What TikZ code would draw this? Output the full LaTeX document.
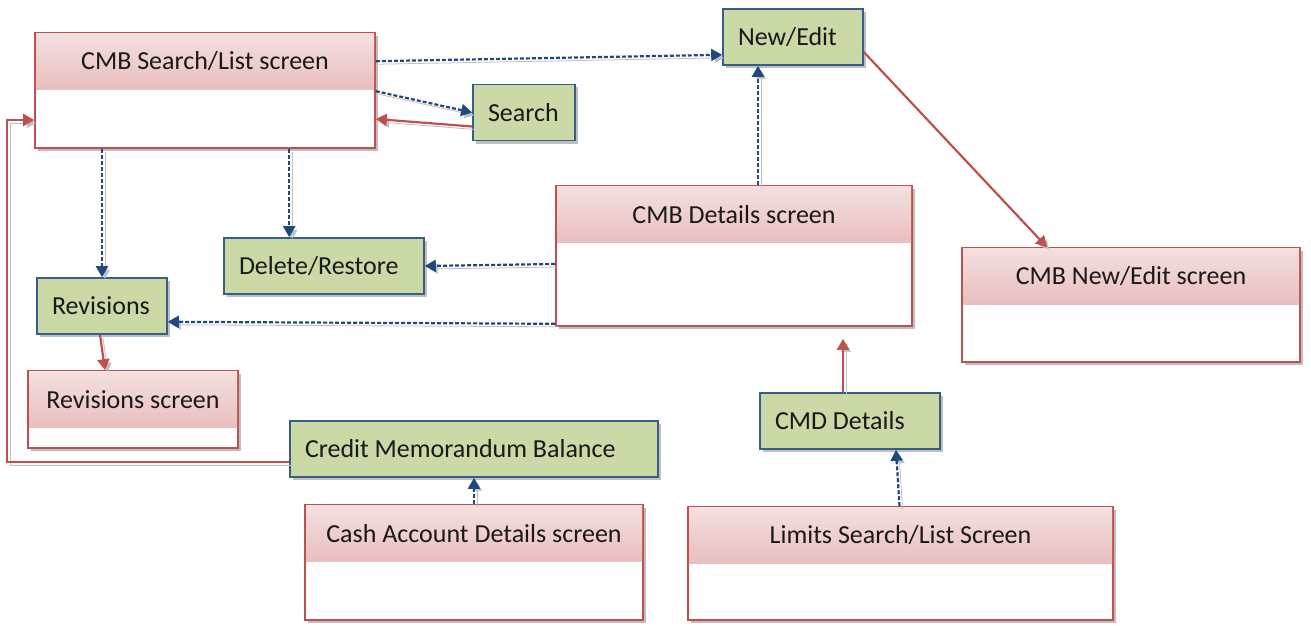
\documentclass[tikz,border=0pt]{standalone}
\usepackage{fontspec}
\setmainfont{Carlito}
\usepackage{tikz}
\usetikzlibrary{arrows.meta,calc,shadows}
\definecolor{scrline}{RGB}{192,80,77}
\definecolor{scrtop}{RGB}{244,224,224}
\definecolor{scrbot}{RGB}{233,190,190}
\definecolor{actfill}{RGB}{202,217,166}
\definecolor{actline}{RGB}{56,93,138}
\definecolor{navblue}{RGB}{31,73,125}

\begin{document}
\begin{tikzpicture}[x=0.5pt,y=-0.5pt,>={Triangle[length=5.5pt,width=6pt]},
  font=\fontsize{13}{15}\selectfont,
  screen/.style={draw=scrline,line width=0.8pt,fill=white,inner sep=0pt,
    drop shadow={shadow xshift=1.5pt,shadow yshift=-1.5pt,fill=black!50,opacity=.5}},
  head/.style={anchor=north,yshift=-0.4pt,minimum height=28pt,inner sep=0pt,
    top color=scrtop,bottom color=scrbot,text=black!90},
  action/.style={draw=actline,line width=0.8pt,fill=actfill,minimum height=28pt,
    inner xsep=7.5pt,inner ysep=0pt,align=flush left,text=black!90,
    drop shadow={shadow xshift=1.5pt,shadow yshift=-1.5pt,fill=black!50,opacity=.5}},
  nav/.style={->,navblue,line width=1.1pt,dash pattern=on 2pt off 1pt,
    preaction={draw=black!25,transform canvas={shift={(1.5pt,-1.5pt)}}}},
  flow/.style={->,scrline,line width=1.1pt,
    preaction={draw=black!25,transform canvas={shift={(1.5pt,-1.5pt)}}}}]
\useasboundingbox (0,0) rectangle (1311,626);

% screens
\node[screen,minimum width=170pt,minimum height=57.5pt] (cmbsearch) at (205,90.5) {};
\node[head,minimum width=169pt] (cmbsearch-t) at (cmbsearch.north) {CMB Search/List screen};
\node[screen,minimum width=178pt,minimum height=70pt] (cmbdet) at (734,256) {};
\node[head,minimum width=177pt] (cmbdet-t) at (cmbdet.north) {CMB Details screen};
\node[screen,minimum width=169pt,minimum height=57pt] (cmbnew) at (1131,305) {};
\node[head,minimum width=168pt] (cmbnew-t) at (cmbnew.north) {CMB New/Edit screen};
\node[screen,minimum width=105pt,minimum height=38.5pt] (revscreen) at (133,409.5) {};
\node[head,minimum width=104pt] (revscreen-t) at (revscreen.north) {Revisions screen};
\node[screen,minimum width=169pt,minimum height=57.5pt] (cashacc) at (474,562.5) {};
\node[head,minimum width=168pt] (cashacc-t) at (cashacc.north) {Cash Account Details screen};
\node[screen,minimum width=212.5pt,minimum height=56.5pt] (limits) at (900.5,563.5) {};
\node[head,minimum width=211.5pt] (limits-t) at (limits.north) {Limits Search/List Screen};

% actions
\node[action,text width=36pt] (search) at (524,112.5) {Search};
\node[action,text width=55pt] (newedit) at (793,37) {New/Edit};
\node[action,text width=85pt] (delrest) at (324,266) {Delete/Restore};
\node[action,text width=50pt] (revisions) at (102,306) {Revisions};
\node[action,text width=169pt] (cmbal) at (474,449) {Credit Memorandum Balance};
\node[action,text width=75pt] (cmddet) at (850,421) {CMD Details};

% entry points
\coordinate (delin) at ($(delrest.north west)+(66,0)$);
\coordinate (newin) at ($(newedit.south)+(-35,0)$);
\coordinate (detin) at ($(cmbdet.south)+(109,0)$);
\coordinate (loop) at ($(cmbsearch.west)+(-27,29.5)$);

% links
\draw[nav] ($(cmbsearch.north east)+(0,29)$) -- ($(newedit.south west)+(0,-11)$);
\draw[nav] ($(cmbsearch.north east)+(0,59)$) -- (search.west);
\draw[flow] ($(search.west)+(0,14)$) -- ($(cmbsearch.east)+(0,28.5)$);
\draw[nav] (revisions.north |- cmbsearch.south) -- (revisions.north);
\draw[nav] (delin |- cmbsearch.south) -- (delin);
\draw[nav] ($(cmbdet.west)+(0,8)$) -- (delrest.east);
\draw[nav] ($(cmbdet.south west)+(0,-3)$) -- ($(revisions.south east)+(0,-13)$);
\draw[nav] (newin |- cmbdet.north) -- (newin);
\draw[flow] ($(newedit.east)+(0,15)$) -- ($(cmbnew.north)+(-84,0)$);
\draw[flow] ($(revisions.south)+(-2,0)$) -- ($(revscreen.north)+(-28,0)$);
\draw[flow] ($(cmbal.west)+(0,13)$) -| (loop) -- (loop -| cmbsearch.west);
\draw[nav] (cashacc.north) -- (cmbal.south);
\draw[flow,shorten >=6pt] (detin |- cmddet.north) -- (detin);
\draw[nav] ($(limits.north)+(-1,0)$) -- ($(cmddet.south)+(46,0)$);
\end{tikzpicture}
\end{document}
